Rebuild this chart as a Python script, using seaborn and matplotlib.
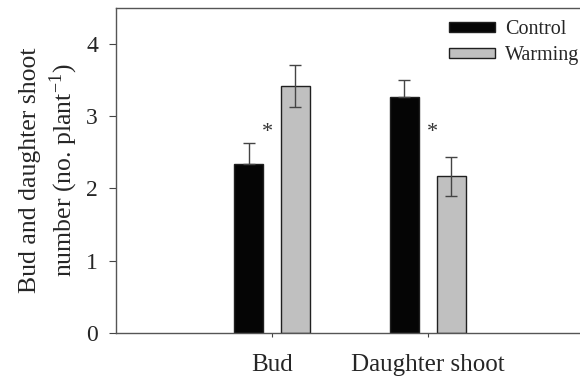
import matplotlib
matplotlib.use('Agg')
import matplotlib.pyplot as plt
import seaborn as sns
import numpy as np
import pandas as pd

organs = ['Bud', 'Daughter shoot']
treatments = ['Control', 'Warming']
control_mean = [2.34, 3.26]
warming_mean = [3.42, 2.17]
control_se = [0.29, 0.24]
warming_se = [0.29, 0.27]
star_y = [2.77, 2.77]

df = pd.DataFrame({
    'organ': organs * 2,
    'treatment': ['Control'] * 2 + ['Warming'] * 2,
    'value': control_mean + warming_mean,
    'se': control_se + warming_se,
})

sns.set_style('ticks')
plt.rcParams['font.family'] = ['Liberation Serif', 'DejaVu Serif']
plt.rcParams['mathtext.fontset'] = 'stix'

fig = plt.figure(figsize=(5.8, 3.79), dpi=100)
ax = fig.add_axes([0.2, 0.1214, 0.82, 0.858])

ax = sns.barplot(data=df, x='organ', y='value', hue='treatment', order=organs,
                 hue_order=treatments, palette={'Control': '#050505', 'Warming': '#c0c0c0'},
                 width=0.6, gap=0.38, edgecolor='#202020', linewidth=1.0, ax=ax,
                 errorbar=None)

# error bars: only the upper half shows on the black bars
for cont, trt in zip(ax.containers, treatments):
    sub = df[df['treatment'] == trt]
    xs = [p.get_x() + p.get_width() / 2 for p in cont.patches]
    se = sub['se'].to_numpy()
    lower = np.zeros_like(se) if trt == 'Control' else se
    ax.errorbar(xs, sub['value'], yerr=[lower, se], fmt='none', ecolor='#444444',
                elinewidth=1.0, capsize=4, capthick=1.0, zorder=3)

for i, y in enumerate(star_y):
    dx = -0.03 if i == 0 else 0.03
    ax.text(i + dx, y, '*', ha='center', va='center', fontsize=16, color='#333333')

ax.set_ylim(0, 4.5)
ax.set_xlim(-1.0, 2.05)
ax.set_yticks([0, 1, 2, 3, 4])
ax.set_xlabel('')
ax.set_ylabel('Bud and daughter shoot\nnumber (no. plant$^{\\mathregular{-1}}$)', fontsize=18.5,
              linespacing=1.3)
ax.yaxis.set_label_coords(-0.075, 0.5)
ax.tick_params(axis='y', labelsize=17, direction='out', length=5, color='#444444', pad=8)
ax.tick_params(axis='x', labelsize=18, direction='out', length=3, color='#444444', pad=12)
for s in ax.spines.values():
    s.set_color('#555555')
    s.set_linewidth(1.0)

ax.legend(loc='upper left', bbox_to_anchor=(0.70, 0.962), bbox_transform=ax.transAxes,
          frameon=False, fontsize=14.5, borderpad=0, borderaxespad=0,
          handlelength=2.3, handleheight=0.45, handletextpad=0.5, labelspacing=0.35)

plt.savefig('out.png', dpi=100)
